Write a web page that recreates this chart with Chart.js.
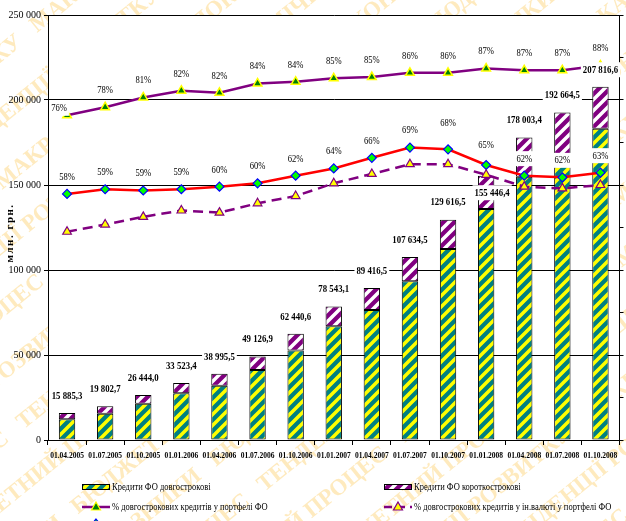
<!DOCTYPE html>
<html>
<head>
<meta charset="utf-8">
<script src="https://cdn.jsdelivr.net/npm/chart.js@4"></script>
<style>
  body { margin: 0; background: #fff; }
  #wrap { width: 626px; height: 521px; }
</style>
</head>
<body>
<div id="wrap"><canvas id="myChart" width="626" height="521"></canvas></div>
<script>
var chart = document.getElementById('myChart')

// data
const dates = ['01.04.2005', '01.07.2005', '01.10.2005', '01.01.2006', '01.04.2006', '01.07.2006', '01.10.2006',
    '01.01.2007', '01.04.2007', '01.07.2007', '01.10.2007', '01.01.2008', '01.04.2008', '01.07.2008', '01.10.2008'];
const totals = [15885.3, 19802.7, 26444.0, 33523.4, 38995.5, 49126.9, 62440.6, 78543.1, 89416.5,
    107634.5, 129616.5, 155446.4, 178003.4, 192664.5, 207816.6];
const longTerm = [12150, 15500, 21300, 27560, 31860, 41220, 52640, 66840, 76540,
    93320, 112380, 135860, 154860, 167620, 183090];
const shareLong = [76.4, 78.3, 80.6, 82.2, 81.7, 83.9, 84.3, 85.1, 85.4, 86.4, 86.4, 87.4, 87.0, 87.0, 88.1];
const shareFx = [57.9, 59.0, 58.7, 59.0, 59.6, 60.4, 62.2, 63.9, 66.4, 68.8, 68.4, 64.7, 62.2, 61.8, 62.9];
const shareLongFx = [49.0, 50.7, 52.5, 54.0, 53.5, 55.7, 57.4, 60.4, 62.6, 64.9, 64.9, 62.4, 59.6, 59.2, 60.0];

const names = [
    'Кредити ФО довгострокові',
    'Кредити ФО короткострокові',
    '% довгострокових кредитів у портфелі ФО',
    '% довгострокових кредитів у ін.валюті у портфелі ФО',
    '% кредитів у ін.валюті у портфелі ФО',
];

const shortTerm = totals.map((t, i) => t - longTerm[i]);

const FONT = 'Liberation Serif';

function stripes(bg, fg, size, w) {
    const c = document.createElement('canvas');
    c.width = size; c.height = size;
    const g = c.getContext('2d');
    g.fillStyle = bg;
    g.fillRect(0, 0, size, size);
    g.strokeStyle = fg;
    g.lineWidth = w;
    g.beginPath();
    g.moveTo(0, size); g.lineTo(size, 0);
    g.moveTo(-size / 2, size / 2); g.lineTo(size / 2, -size / 2);
    g.moveTo(size / 2, size * 1.5); g.lineTo(size * 1.5, size / 2);
    g.stroke();
    return g.createPattern(c, 'repeat');
}

const ctx = chart.getContext('2d');
const greenFill = stripes('#008080', '#ffff00', 11, 3.5);
const purpleFill = stripes('#800080', '#ffffff', 11, 3.5);

function fmt(n) {
    const parts = n.toFixed(1).split('.');
    return parts[0].replace(/\B(?=(\d{3})+(?!\d))/g, ' ') + ',' + parts[1];
}

function label(g, s, x, y, font, size, sx, bg) {
    g.save();
    g.font = font;
    const w = g.measureText(s).width * sx;
    if (bg) {
        g.fillStyle = '#fff';
        g.fillRect(x - w / 2 - 2, y - size / 2 - 2, w + 4, size + 4);
    }
    g.translate(x, y);
    g.scale(sx, 1);
    g.fillStyle = '#000';
    g.textAlign = 'center';
    g.textBaseline = 'middle';
    g.fillText(s, 0, 0);
    g.restore();
}

const backdrop = {
    id: 'backdrop',
    beforeDraw(c) {
        const g = c.ctx, a = c.chartArea;
        g.save();
        g.fillStyle = '#fff';
        g.fillRect(0, 0, c.width, c.height);
        g.translate(313, 260);
        g.rotate(-0.68);
        g.font = 'bold 23px ' + FONT;
        g.fillStyle = 'rgba(252, 205, 100, 0.42)';
        const line = 'МАКРОЕКОНОМІЧНІ ПОКАЗНИКИ   БЮДЖЕТНИЙ ПРОЦЕС   ТЕНДЕНЦІЇ РОЗВИТКУ   ';
        for (let k = -10; k <= 10; k++) {
            g.fillText(line + line + line, -900 + (k * 137) % 400, k * 50);
        }
        g.restore();
        g.fillStyle = '#fff';
        g.fillRect(a.left, a.top, a.right - a.left, a.bottom - a.top);
    }
};

const labelOffsets = {
    2: {0: [-8, 10]},
    4: {10: [0, -9], 11: [0, -3]},
};

const valueLabels = {
    id: 'valueLabels',
    afterDatasetsDraw(c) {
        const g = c.ctx;
        const top = c.getDatasetMeta(1);
        top.data.forEach((el, i) => {
            let x = el.x, y = el.y - 17;
            if (i === 11) { x += 6; y = el.y + 17; }
            label(g, fmt(totals[i]), x, y, 'bold 11px ' + FONT, 11, 0.8, true);
        });
        [2, 4].forEach(d => {
            const meta = c.getDatasetMeta(d);
            const vals = c.data.datasets[d].data;
            meta.data.forEach((el, i) => {
                const off = (labelOffsets[d] && labelOffsets[d][i]) || [0, 0];
                label(g, Math.round(vals[i]) + '%', el.x + off[0], el.y - 17 + off[1],
                    '11px ' + FONT, 11, 0.78, true);
            });
        });
    }
};

function legendLine(g, x, y, color, dash, style, fill, stroke) {
    g.save();
    g.strokeStyle = color;
    g.lineWidth = 2.5;
    g.setLineDash(dash);
    g.beginPath(); g.moveTo(x, y); g.lineTo(x + 28, y); g.stroke();
    g.setLineDash([]);
    g.fillStyle = fill; g.strokeStyle = stroke; g.lineWidth = 1.2;
    const cx = x + 14;
    g.beginPath();
    if (style === 'tri') {
        g.moveTo(cx, y - 5); g.lineTo(cx + 4.5, y + 3); g.lineTo(cx - 4.5, y + 3); g.closePath();
    } else {
        g.moveTo(cx, y - 5); g.lineTo(cx + 4, y); g.lineTo(cx, y + 5); g.lineTo(cx - 4, y); g.closePath();
    }
    g.fill(); g.stroke();
    g.restore();
}

const legendBox = {
    id: 'legendBox',
    afterDraw(c) {
        const g = c.ctx;
        const lf = '10px ' + FONT;
        function text(s, x, y) {
            g.save();
            g.font = lf;
            g.translate(x, y);
            g.scale(0.85, 1);
            g.fillStyle = '#000';
            g.textBaseline = 'middle';
            g.fillText(s, 0, 0);
            g.restore();
        }
        // bars
        g.save();
        g.fillStyle = greenFill; g.fillRect(82, 484, 28, 6);
        g.strokeStyle = '#000'; g.lineWidth = 1; g.strokeRect(82.5, 484.5, 27, 5);
        g.fillStyle = purpleFill; g.fillRect(384, 484, 28, 6);
        g.strokeRect(384.5, 484.5, 27, 5);
        g.restore();
        text(names[0], 112, 487);
        text(names[1], 414, 487);
        legendLine(g, 82, 507, '#800080', [], 'tri', '#008000', '#ffff00');
        text(names[2], 112, 507);
        legendLine(g, 384, 507, '#800080', [8, 5], 'tri', '#ffff00', '#800080');
        text(names[3], 414, 507);
        legendLine(g, 82, 524, '#ff0000', [], 'dia', '#00ff00', '#0000ff');
        text(names[4], 112, 526);

        // axis title
        g.save();
        g.translate(10, 233);
        g.rotate(-Math.PI / 2);
        g.font = 'bold 11px ' + FONT;
        g.letterSpacing = '1.5px';
        g.fillStyle = '#000';
        g.textAlign = 'center';
        g.textBaseline = 'middle';
        g.fillText('млн. грн.', 0, 0);
        g.restore();
    }
};

function generate_chart() {
    const data = {
        labels: dates,
        datasets: [
            {
                label: names[0], type: 'bar', data: longTerm, yAxisID: 'y', stack: 's',
                backgroundColor: greenFill, borderColor: '#000', borderWidth: 1, borderSkipped: false, order: 2,
            },
            {
                label: names[1], type: 'bar', data: shortTerm, yAxisID: 'y', stack: 's',
                backgroundColor: purpleFill, borderColor: '#000', borderWidth: 1, borderSkipped: false, order: 2,
            },
            {
                label: names[2], type: 'line', data: shareLong, yAxisID: 'y2',
                borderColor: '#800080', borderWidth: 2.5, pointStyle: 'triangle', pointRadius: 5,
                pointBackgroundColor: '#008000', pointBorderColor: '#ffff00', pointBorderWidth: 1.5, order: 1,
            },
            {
                label: names[3], type: 'line', data: shareLongFx, yAxisID: 'y2',
                borderColor: '#800080', borderWidth: 2.5, borderDash: [10, 6], pointStyle: 'triangle', pointRadius: 5,
                pointBackgroundColor: '#ffff00', pointBorderColor: '#800080', pointBorderWidth: 1.2, order: 1,
            },
            {
                label: names[4], type: 'line', data: shareFx, yAxisID: 'y2',
                borderColor: '#ff0000', borderWidth: 2.5, pointStyle: 'rectRot', pointRadius: 4.5,
                pointBackgroundColor: '#00ff00', pointBorderColor: '#0000ff', pointBorderWidth: 1.2, order: 1,
            },
        ]
    };

    new Chart(ctx, {
        type: 'bar',
        data: data,
        options: {
            responsive: false,
            animation: false,
            layout: { padding: { top: 15, left: 0, right: 0, bottom: 0 } },
            datasets: { bar: { barPercentage: 0.43, categoryPercentage: 1 } },
            plugins: { legend: { display: false }, tooltip: { enabled: false }, title: { display: false } },
            scales: {
                x: {
                    stacked: true,
                    grid: { drawOnChartArea: false, drawTicks: true, tickLength: 5, color: '#000', offset: true },
                    border: { color: '#000', width: 1 },
                    ticks: { color: '#000', font: { family: FONT, size: 7.5, weight: 'bold' }, maxRotation: 0, autoSkip: false, padding: 7 },
                    afterFit(s) { s.height = 81; },
                },
                y: {
                    stacked: true, min: 0, max: 250000,
                    grid: { color: '#000', lineWidth: 1, tickLength: 4 },
                    border: { color: '#000', width: 1 },
                    ticks: {
                        stepSize: 50000, color: '#000', padding: 3,
                        font: { family: FONT, size: 10 },
                        callback: v => v.toString().replace(/\B(?=(\d{3})+(?!\d))/g, ' '),
                    },
                    afterFit(s) { s.width = 48; },
                },
                y2: {
                    position: 'right', min: 0, max: 100, stacked: false,
                    grid: { drawOnChartArea: false, drawTicks: true, tickLength: 4, color: '#000' },
                    border: { color: '#000', width: 1 },
                    ticks: { display: false, stepSize: 10 },
                    afterFit(s) { s.width = 5; },
                },
            },
        },
        plugins: [backdrop, valueLabels, legendBox],
    });
}

if (chart) {
    generate_chart();
}
</script>
</body>
</html>
